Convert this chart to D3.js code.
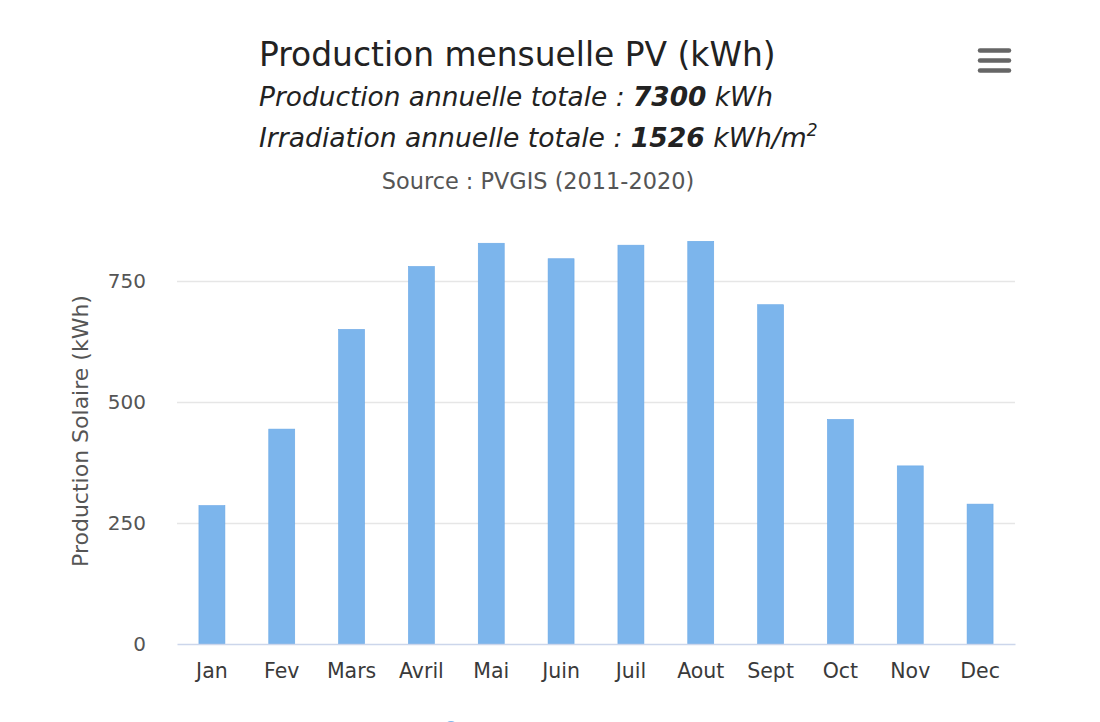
<!DOCTYPE html>
<html><head><meta charset="utf-8">
<script src="https://cdn.jsdelivr.net/npm/d3@7"></script>
<style>
html,body{margin:0;padding:0;background:#fff;}
svg{display:block;}
text{font-family:"DejaVu Sans",Verdana,sans-serif;}
</style></head>
<body>
<svg id="chart" width="1100" height="722"></svg>
<script>
const months = ["Jan","Fev","Mars","Avril","Mai","Juin","Juil","Aout","Sept","Oct","Nov","Dec"];
const production = [286, 444, 650, 780, 828, 796, 824, 832, 701, 464, 368, 289];
const yTicks = [0, 250, 500, 750];
const titleText = "Production mensuelle PV (kWh)";
const totalProduction = "7300";
const totalIrradiation = "1526";
const sourceText = "Source : PVGIS (2011-2020)";
const yAxisTitle = "Production Solaire (kWh)";

const svg = d3.select("#chart");
const plotLeft = 177, plotRight = 1015, plotTop = 220.5, plotBottom = 644;

const x = d3.scaleBand().domain(months).range([plotLeft, plotRight]).paddingInner(0.628).paddingOuter(0.314);
const y = d3.scaleLinear().domain([0, 875]).range([plotBottom, plotTop]);

// gridlines
svg.append("g").selectAll("line").data(yTicks.filter(d => d > 0)).join("line")
  .attr("x1", plotLeft).attr("x2", plotRight)
  .attr("y1", d => Math.round(y(d)) + 0.5).attr("y2", d => Math.round(y(d)) + 0.5)
  .attr("stroke", "#e6e6e6").attr("stroke-width", 1.5);

// bars
svg.append("g").selectAll("rect").data(production).join("rect")
  .attr("x", (d, i) => x(months[i]))
  .attr("width", x.bandwidth())
  .attr("y", d => y(d))
  .attr("height", d => y(0) - y(d))
  .attr("fill", "#7cb5ec")
  .attr("stroke", "#6aa8e6").attr("stroke-width", 0.6);

// x axis
const xAxis = svg.append("g").attr("transform", `translate(0,${plotBottom})`)
  .call(d3.axisBottom(x).tickSize(0).tickPadding(19));
xAxis.select(".domain").attr("stroke", "#ccd6eb").attr("stroke-width", 1.5);
xAxis.selectAll("text").attr("font-size", 20.5).attr("fill", "#3a3a3a")
  .attr("font-family", "'DejaVu Sans',Verdana,sans-serif");

// y axis
const yAxis = svg.append("g").attr("transform", `translate(${plotLeft},0)`)
  .call(d3.axisLeft(y).tickValues(yTicks).tickSize(0).tickPadding(31));
yAxis.select(".domain").remove();
yAxis.selectAll("text").attr("font-size", 20).attr("fill", "#555")
  .attr("font-family", "'DejaVu Sans',Verdana,sans-serif");

svg.append("text").attr("transform", `translate(88,${431}) rotate(-90)`)
  .attr("text-anchor", "middle").attr("font-size", 22).attr("fill", "#555")
  .text(yAxisTitle);

// titles
svg.append("text").attr("x", 259).attr("y", 66).attr("font-size", 32.9).attr("fill", "#222")
  .text(titleText);

const s1 = svg.append("text").attr("x", 259).attr("y", 106).attr("font-size", 26.4)
  .attr("font-style", "italic").attr("fill", "#222");
s1.append("tspan").text("Production annuelle totale : ");
s1.append("tspan").attr("font-weight", "bold").text(totalProduction);
s1.append("tspan").text(" kWh");

const s2 = svg.append("text").attr("x", 259).attr("y", 147).attr("font-size", 26.6)
  .attr("font-style", "italic").attr("fill", "#222");
s2.append("tspan").text("Irradiation annuelle totale : ");
s2.append("tspan").attr("font-weight", "bold").text(totalIrradiation);
s2.append("tspan").text(" kWh/m");
s2.append("tspan").attr("font-size", 17).attr("dy", -11).text("2");

svg.append("text").attr("x", 538).attr("y", 189).attr("text-anchor", "middle")
  .attr("font-size", 22.4).attr("fill", "#555").text(sourceText);

// menu icon
svg.append("g").selectAll("line").data([50.5, 60.5, 70.5]).join("line")
  .attr("x1", 980).attr("x2", 1009).attr("y1", d => d).attr("y2", d => d)
  .attr("stroke", "#666").attr("stroke-width", 4.5).attr("stroke-linecap", "round");

// legend symbol (partially visible)
svg.append("circle").attr("cx", 451).attr("cy", 728).attr("r", 7).attr("fill", "#7cb5ec");
</script>
</body></html>
